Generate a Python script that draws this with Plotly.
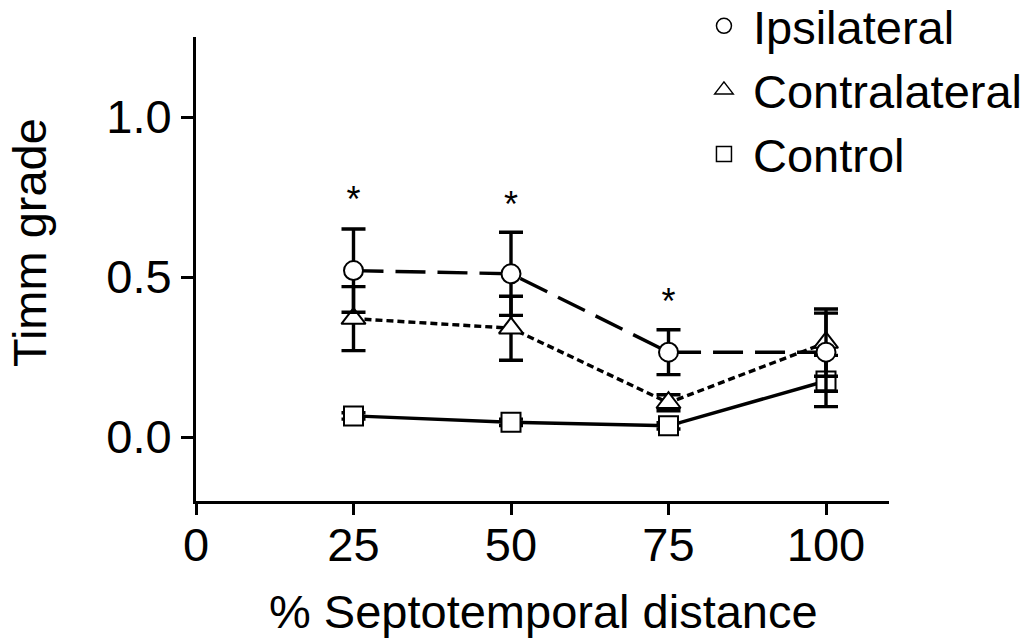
import plotly.graph_objects as go

# ---- data ----
x_pos = [25, 50, 75, 100]
ipsi = [0.52, 0.51, 0.265, 0.265]
ipsi_err = [0.13, 0.13, 0.07, 0.122]
contra = [0.37, 0.34, 0.107, 0.295]
contra_err = [0.10, 0.10, 0.025, 0.105]
control = [0.066, 0.046, 0.035, 0.175]
control_err = [0.01, 0.01, 0.01, 0.08]
sig_x = [25, 50, 75]
sig_y = [0.73, 0.716, 0.4125]
x_ticks = [0, 25, 50, 75, 100]
y_ticks = [0.0, 0.5, 1.0]
series_names = ["Ipsilateral", "Contralateral", "Control"]

FONT = "Liberation Sans, Arial, sans-serif"
BLACK = "#000000"
LW = 3.4

fig = go.Figure()


def err(arr):
    return dict(type="data", array=arr, visible=True, color=BLACK,
                thickness=LW, width=12)


# control (bottom)
fig.add_trace(go.Scatter(
    x=x_pos, y=control, mode="lines+markers", showlegend=False,
    line=dict(color=BLACK, width=LW),
    marker=dict(symbol="square", size=19, color="white",
                line=dict(color=BLACK, width=2)),
    error_y=err(control_err)))
# contralateral
fig.add_trace(go.Scatter(
    x=x_pos, y=contra, mode="lines+markers", showlegend=False,
    line=dict(color=BLACK, width=LW, dash="7px,4px"),
    marker=dict(symbol="triangle-up", size=21, color="white",
                line=dict(color=BLACK, width=2)),
    error_y=err(contra_err)))
# ipsilateral (top)
fig.add_trace(go.Scatter(
    x=x_pos, y=ipsi, mode="lines+markers", showlegend=False,
    line=dict(color=BLACK, width=LW, dash="30px,12px"),
    marker=dict(symbol="circle", size=19, color="white",
                line=dict(color=BLACK, width=2)),
    error_y=err(ipsi_err)))

# significance asterisks
fig.add_trace(go.Scatter(
    x=sig_x, y=sig_y, mode="text", text=["*"] * len(sig_x),
    textposition="middle center", showlegend=False,
    textfont=dict(family=FONT, size=36, color=BLACK)))

# legend-only traces
for name, sym in zip(series_names, ["circle", "triangle-up", "square"]):
    fig.add_trace(go.Scatter(
        x=[None], y=[None], mode="markers", name=name, showlegend=True,
        marker=dict(symbol=sym, size=15 if sym != "triangle-up" else 16,
                    color="white", line=dict(color=BLACK, width=1.5))))

fig.update_layout(
    width=1033, height=640,
    margin=dict(l=196, r=144, t=37, b=139, autoexpand=False),
    paper_bgcolor="white", plot_bgcolor="white",
    font=dict(family=FONT, size=47, color=BLACK),
    legend=dict(x=0.72, y=1.104, xanchor="left", yanchor="top",
                bgcolor="rgba(0,0,0,0)", borderwidth=0,
                font=dict(family=FONT, size=47, color=BLACK),
                itemsizing="trace", itemwidth=48, tracegroupgap=0),
    annotations=[
        dict(text="Timm grade", xref="paper", yref="paper",
             x=-0.241, y=0.558, xanchor="center", yanchor="middle",
             textangle=-90, showarrow=False,
             font=dict(family=FONT, size=47, color=BLACK)),
        dict(text="% Septotemporal distance", xref="paper", yref="paper",
             x=0.502, y=-0.239, xanchor="center", yanchor="middle",
             showarrow=False,
             font=dict(family=FONT, size=47, color=BLACK)),
    ],
)

fig.update_xaxes(range=[0, 110], tickvals=x_ticks,
                 ticktext=[str(v) for v in x_ticks],
                 showline=True, linecolor=BLACK, linewidth=3,
                 ticks="outside", ticklen=11, tickwidth=3, tickcolor=BLACK,
                 ticklabelstandoff=-10,
                 showgrid=False, zeroline=False,
                 tickfont=dict(family=FONT, size=47, color=BLACK))
fig.update_yaxes(range=[-0.2, 1.25], tickvals=y_ticks,
                 ticktext=[f"{v:.1f}" for v in y_ticks],
                 showline=True, linecolor=BLACK, linewidth=3,
                 ticks="outside", ticklen=12, tickwidth=3, tickcolor=BLACK,
                 showgrid=False, zeroline=False,
                 tickfont=dict(family=FONT, size=47, color=BLACK))

fig.write_html("out.html")
